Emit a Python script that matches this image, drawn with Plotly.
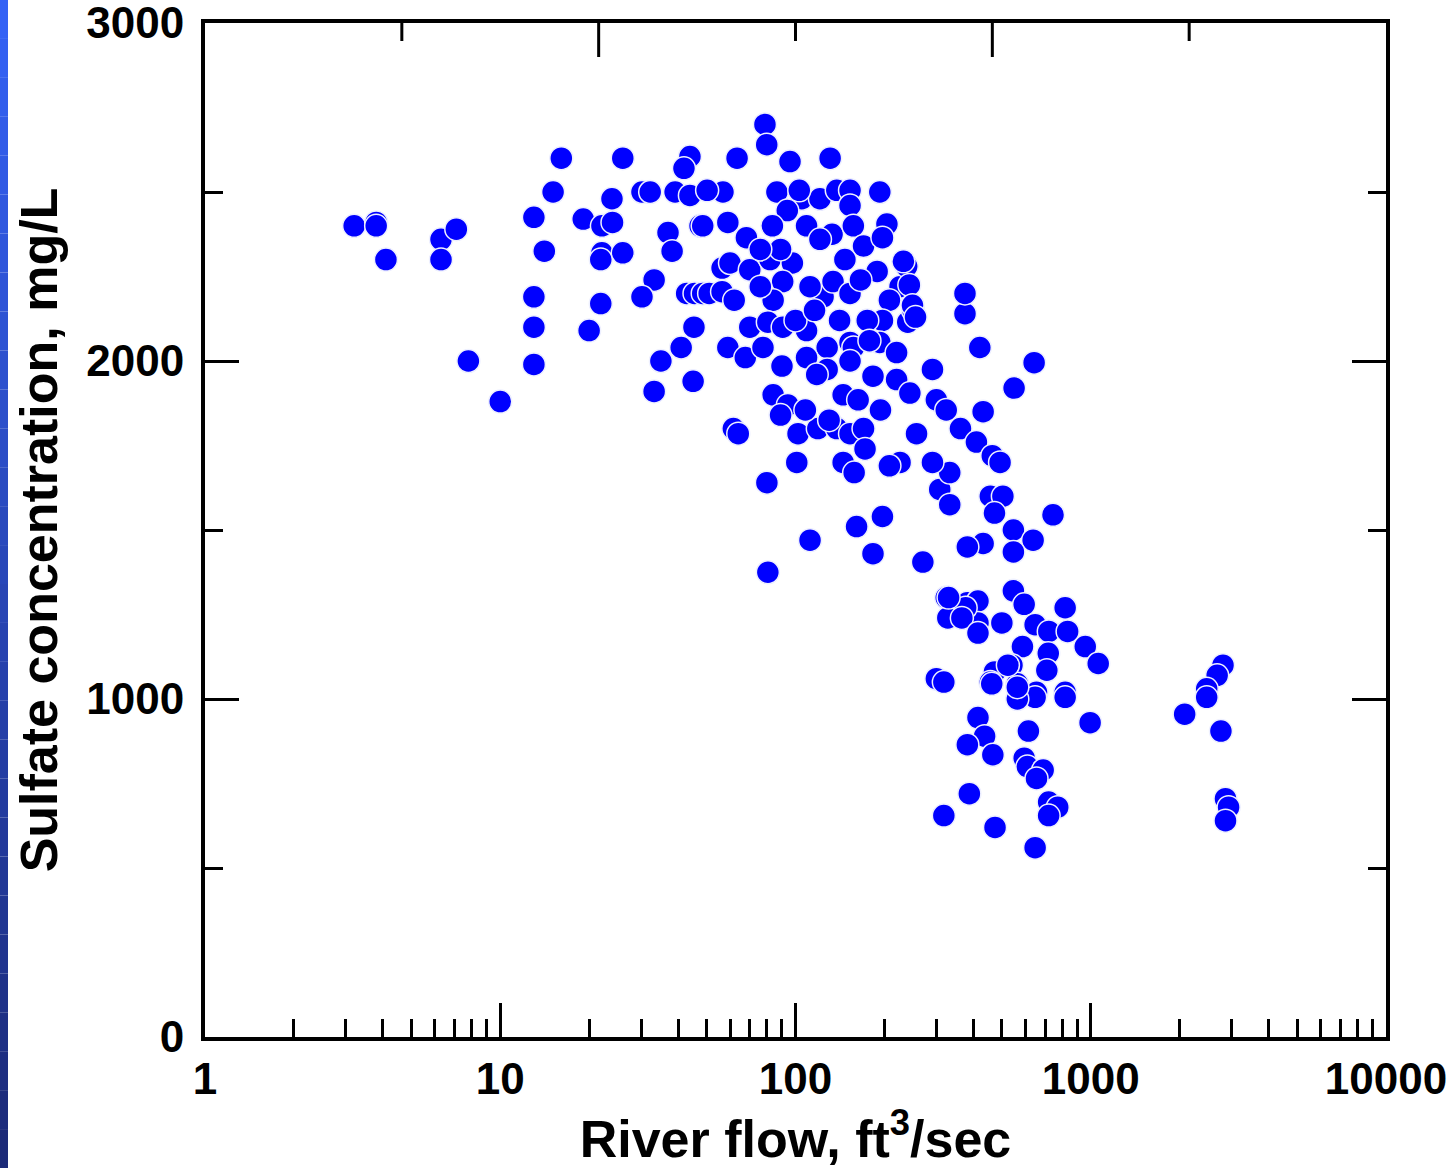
import plotly.graph_objects as go

# River flow (ft3/sec) and sulfate concentration (mg/L)
flow = [
    3.2, 3.8, 3.8, 4.1, 6.3, 7.1, 6.3, 7.8, 10, 16.1, 26, 43.9, 41.9, 15.1, 30.2, 32.2, 39.1, 43.9,
    23.9, 13, 19.1, 22.1, 24, 37, 47.5, 14.1, 22.1, 21.9, 26, 38.2, 33.2, 30.2, 42.8, 45.5, 48.5, 51,
    13, 21.9, 13, 20, 45.3, 41, 35, 45, 13, 33.2,
    78.8, 79.9, 63.4, 95.8, 131, 193, 86.5, 56.8, 50.2, 105, 121, 138, 153, 153, 103, 93.8, 48.5, 59,
    68.2, 83.5, 109, 133, 157, 170, 204, 197, 56.4, 60, 70, 82, 97.6, 90.5, 84, 76, 124, 134, 112, 153,
    189, 226, 238, 208, 240, 250, 197, 175, 56.4, 70, 80.6, 90.5, 109, 128, 153, 193, 220, 59, 67.6,
    77.6, 90, 109, 128, 157, 183, 220, 291, 300, 244, 84, 94.2, 89, 118, 145, 163, 61.6, 64, 102, 119,
    138, 153, 170, 257,
    121, 147, 166, 100, 116, 141, 153, 178, 89, 76, 108, 130, 172, 194, 62,
    375, 421, 643, 550, 432, 324, 362, 410, 464, 493, 308, 333, 333, 457, 504, 472, 745, 547, 638, 547,
    432, 382, 226, 270, 197, 161, 112, 183, 80.6, 80, 101, 145, 158, 208, 291, 324, 382, 415, 415, 328,
    500, 547, 595, 648, 819, 721, 835, 958, 587, 718, 541, 710, 472, 457, 564, 655, 819, 300, 318, 1060,
    2805, 2680, 2470, 2470, 2080, 2760, 2860, 2930, 2860, 415, 437, 382, 466, 615, 995, 595, 610, 690,
    655, 720, 773, 720, 388, 318, 474, 648, 819, 648, 564, 564, 462, 524, 377, 330, 366, 415,
    232, 243, 249, 255, 375,
]
sulfate = [
    2400, 2410, 2400, 2300, 2360, 2390, 2300, 2000, 1880, 2600, 2600, 2605, 2570, 2500, 2500, 2500, 2500, 2490,
    2480, 2425, 2420, 2400, 2410, 2380, 2400, 2325, 2320, 2300, 2320, 2325, 2240, 2190, 2200, 2200, 2200, 2200,
    2190, 2170, 2100, 2090, 2100, 2040, 2000, 1940, 1990, 1910,
    2700, 2640, 2600, 2590, 2600, 2500, 2500, 2500, 2505, 2480, 2480, 2505, 2505, 2460, 2505, 2445, 2400, 2410,
    2365, 2400, 2400, 2375, 2400, 2340, 2405, 2365, 2275, 2290, 2270, 2300, 2290, 2235, 2180, 2220, 2190, 2235, 2220, 2200,
    2265, 2220, 2280, 2180, 2115, 2150, 2120, 2120, 2205, 2100, 2115, 2100, 2090, 2040, 2055, 2055, 2025, 2040, 2010,
    2040, 1985, 2010, 1975, 2040, 1955, 1945, 1975, 1885, 1905, 1900, 1870, 1840, 1960, 1900, 1885, 1800, 1785, 1785, 1800,
    1800, 1785, 1800, 1785,
    2360, 2300, 2240, 2120, 2150, 2120, 2000, 2060, 2330, 2330, 1855, 1825, 1740, 1855, 2180,
    2140, 2040, 1995, 1920, 1850, 1855, 1800, 1760, 1720, 1700, 1620, 1670, 1575, 1600, 1600, 1550, 1545, 1500, 1470, 1435,
    1460, 1450, 1700, 1405, 1540, 1510, 1470, 1430, 1375, 1640, 1700, 1700, 1670, 1690, 1700, 1300, 1285, 1290, 1225, 1240,
    1225, 1320, 1280, 1220, 1270, 1200, 1200, 1155, 1155, 1135, 1100, 1085, 1080, 1050, 1045, 1020, 1020, 1060, 1050, 1105,
    1100, 1070, 1030, 1005, 955, 905, 705, 680, 640, 945, 890, 865, 835, 905, 930, 825, 800, 790,
    765, 695, 680, 655, 720, 655, 620, 560, 1005, 1005, 1000, 1035, 1045, 1100, 1270, 1300, 1240, 1195,
    2295, 2225, 2165, 2130, 2200,
]

x_major = [1, 10, 100, 1000, 10000]
x_major_labels = ["1", "10", "100", "1000", "10000"]
x_minor = [m * d for d in (1, 10, 100, 1000) for m in range(2, 10)]
y_major = [0, 1000, 2000, 3000]
y_minor = [500, 1500, 2500]
# top frame ticks (fractions of the plot width): long, short
top_major = [2 / 6, 4 / 6]
top_minor = [1 / 6, 3 / 6, 5 / 6]

W, H = 1453, 1168
ML, MR, MT, MB = 205, 67, 23, 131
PW, PH = W - ML - MR, H - MT - MB
MAJ_LEN, MIN_LEN = 34, 18

fig = go.Figure()
fig.add_trace(go.Scatter(
    x=flow, y=sulfate, mode="markers",
    marker=dict(size=23, color="#0000ff", line=dict(width=1.5, color="#eef0ff")),
    showlegend=False, hoverinfo="x+y",
))

font_tick = dict(family="Liberation Sans, Arial, sans-serif", size=44, color="black", weight="bold")
font_title = dict(family="Liberation Sans, Arial, sans-serif", size=52, color="black", weight="bold")

fig.update_layout(
    width=W, height=H, autosize=False,
    margin=dict(l=ML, r=MR, t=MT, b=MB, pad=0, autoexpand=False),
    paper_bgcolor="white", plot_bgcolor="white",
    xaxis=dict(
        type="log", range=[0, 4], automargin=False,
        tickvals=x_major, ticktext=x_major_labels,
        ticks="inside", ticklen=MAJ_LEN, tickwidth=3, tickcolor="black",
        minor=dict(tickvals=x_minor, ticks="inside", ticklen=MIN_LEN, tickwidth=3, tickcolor="black", showgrid=False),
        showline=True, linewidth=4, linecolor="black", mirror=True,
        showgrid=False, zeroline=False,
        tickfont=font_tick, ticklabelstandoff=0, ticklabeloverflow="allow",
        title=dict(text="River flow, ft<sup>3</sup>/sec", font=font_title, standoff=17),
    ),
    yaxis=dict(
        range=[0, 3000], automargin=False,
        tickvals=y_major,
        ticks="inside", ticklen=MAJ_LEN, tickwidth=3, tickcolor="black",
        minor=dict(tickvals=y_minor, ticks="inside", ticklen=MIN_LEN, tickwidth=3, tickcolor="black", showgrid=False),
        showline=True, linewidth=4, linecolor="black", mirror="ticks",
        showgrid=False, zeroline=False,
        tickfont=font_tick, ticklabelstandoff=8, ticklabeloverflow="allow",
        title=dict(text="Sulfate concentration, mg/L", font=font_title, standoff=13),
    ),
)

# ticks along the top frame line
for fx in top_major + top_minor:
    ln = MAJ_LEN if fx in top_major else MIN_LEN
    fig.add_shape(type="line", xref="paper", yref="paper", x0=fx, x1=fx, y0=1, y1=1 - ln / PH,
                  line=dict(color="black", width=3))

# blue gradient strip at the left edge of the slide
n = 30
top_rgb = (52, 98, 245)
bot_rgb = (28, 42, 120)
for i in range(n):
    t = i / (n - 1)
    c = tuple(int(round(a + (b - a) * t)) for a, b in zip(top_rgb, bot_rgb))
    fig.add_shape(type="rect", xref="paper", yref="paper", layer="above",
                  x0=(0 - ML) / PW, x1=(8 - ML) / PW,
                  y0=(H - MB - (i + 1) * H / n) / PH, y1=(H - MB - i * H / n) / PH,
                  fillcolor="rgb(%d,%d,%d)" % c, line=dict(width=0))

fig.write_html("out.html", config={"displayModeBar": False},
               post_script="document.body.style.margin='0';document.body.style.overflow='hidden';")
